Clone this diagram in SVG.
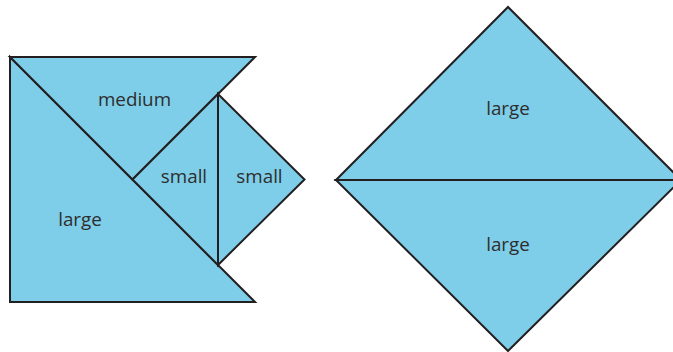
<svg xmlns="http://www.w3.org/2000/svg" width="673" height="352" viewBox="0 0 673 352">
<style>
.p{fill:#7ecde9;stroke:#231f20;stroke-width:2;stroke-linejoin:miter}
.t{font-family:"Open Sans","Noto Sans",sans-serif;font-size:18.8px;fill:#2d2d2d;text-anchor:middle}
</style>
<rect width="673" height="352" fill="#fff"/>
<g id="left-large"><polygon class="p" points="10,57 10,302 255,302"/><text class="t" x="80" y="226">large</text></g>
<g id="medium"><polygon class="p" points="10,57 255,57 132.5,179.5"/><text class="t" x="134.5" y="106">medium</text></g>
<g id="small-1"><polygon class="p" points="132.5,179.5 218,94 218,265"/><text class="t" x="184" y="183">small</text></g>
<g id="small-2"><polygon class="p" points="218,94 304.5,179.5 218,265"/><text class="t" x="259.5" y="183">small</text></g>
<g id="right-large-top"><polygon class="p" points="336,180 508,7 681,180"/><text class="t" x="508" y="115">large</text></g>
<g id="right-large-bottom"><polygon class="p" points="336,180 681,180 508,351"/><text class="t" x="508" y="251">large</text></g>
</svg>
